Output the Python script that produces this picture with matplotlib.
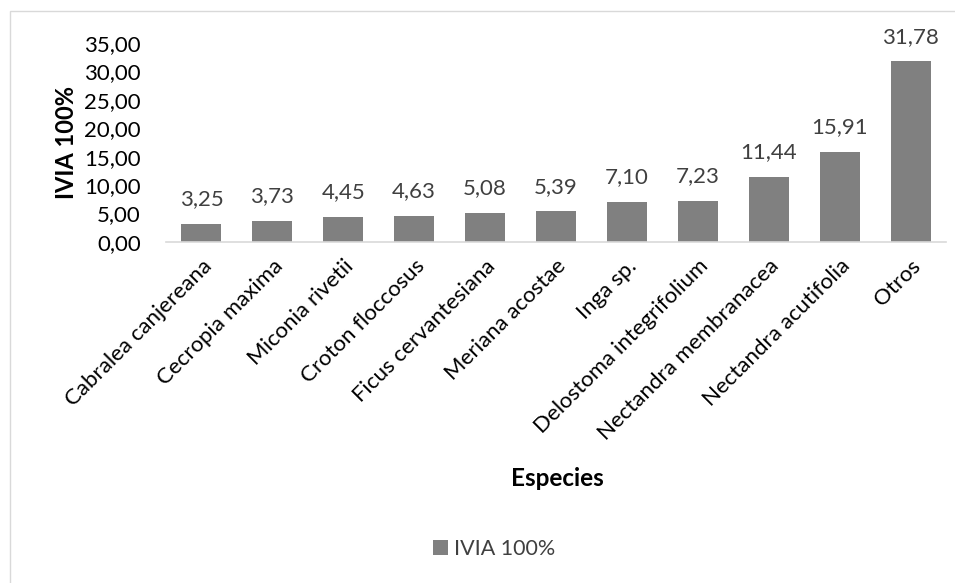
import matplotlib.pyplot as plt
from matplotlib.patches import Rectangle

especies = ["Cabralea canjereana", "Cecropia maxima", "Miconia rivetii",
            "Croton floccosus", "Ficus cervantesiana", "Meriana acostae",
            "Inga sp.", "Delostoma integrifolium", "Nectandra membranacea",
            "Nectandra acutifolia", "Otros"]
ivia = [3.25, 3.73, 4.45, 4.63, 5.08, 5.39, 7.10, 7.23, 11.44, 15.91, 31.78]
y_ticks = [0, 5, 10, 15, 20, 25, 30, 35]

plt.rcParams['font.family'] = ['Lato', 'DejaVu Sans']

fig = plt.figure(figsize=(9.55, 5.83), dpi=100)
W, H = 955, 583
ax = fig.add_axes([166 / W, 1 - 242 / H, (946 - 166) / W, (242 - 43) / H])

x = range(len(especies))
bars = ax.bar(x, ivia, width=0.565, color='#808080', label='IVIA 100%')

def coma(v):
    return f"{v:.2f}".replace('.', ',')

for b, v in zip(bars, ivia):
    ax.annotate(coma(v), (b.get_x() + b.get_width() / 2, v),
                xytext=(0, 10.5), textcoords='offset points',
                ha='center', va='bottom', fontsize=16, color='#404040')

ax.set_ylim(0, 35)
ax.set_xlim(-0.5, len(especies) - 0.5)
ax.set_yticks(y_ticks)
ax.set_yticklabels([coma(t) for t in y_ticks], fontsize=16, color='#000000')
ax.set_xticks(list(x))
ax.set_xticklabels(especies, rotation=45, ha='right', rotation_mode='anchor',
                   fontsize=16, color='#000000')
ax.tick_params(axis='both', length=0)
ax.tick_params(axis='y', pad=18)
ax.tick_params(axis='x', pad=10)

for s in ['top', 'right', 'left']:
    ax.spines[s].set_visible(False)
ax.spines['bottom'].set_color('#d9d9d9')
ax.spines['bottom'].set_linewidth(1.2)

ax.set_ylabel('IVIA 100%', fontsize=17, fontweight='bold')
ax.yaxis.set_label_coords(-0.113, 0.5)
fig.text(557 / W, 1 - 479 / H, 'Especies', ha='center', va='center',
         fontsize=17.5, fontweight='bold')

leg = fig.legend(handles=[bars], labels=['IVIA 100%'], loc='center',
                 bbox_to_anchor=(494 / W, 1 - 549 / H), frameon=False,
                 fontsize=15.5, handlelength=0.7, handleheight=0.7,
                 handletextpad=0.3, labelcolor='#404040')

# light outer border of the chart area
fig.patches.append(Rectangle((10 / W, -0.1), 1.2, 1 - 11 / H + 0.1,
                             transform=fig.transFigure, fill=False,
                             edgecolor='#d9d9d9', linewidth=1))

fig.savefig('out.png', dpi=100)
